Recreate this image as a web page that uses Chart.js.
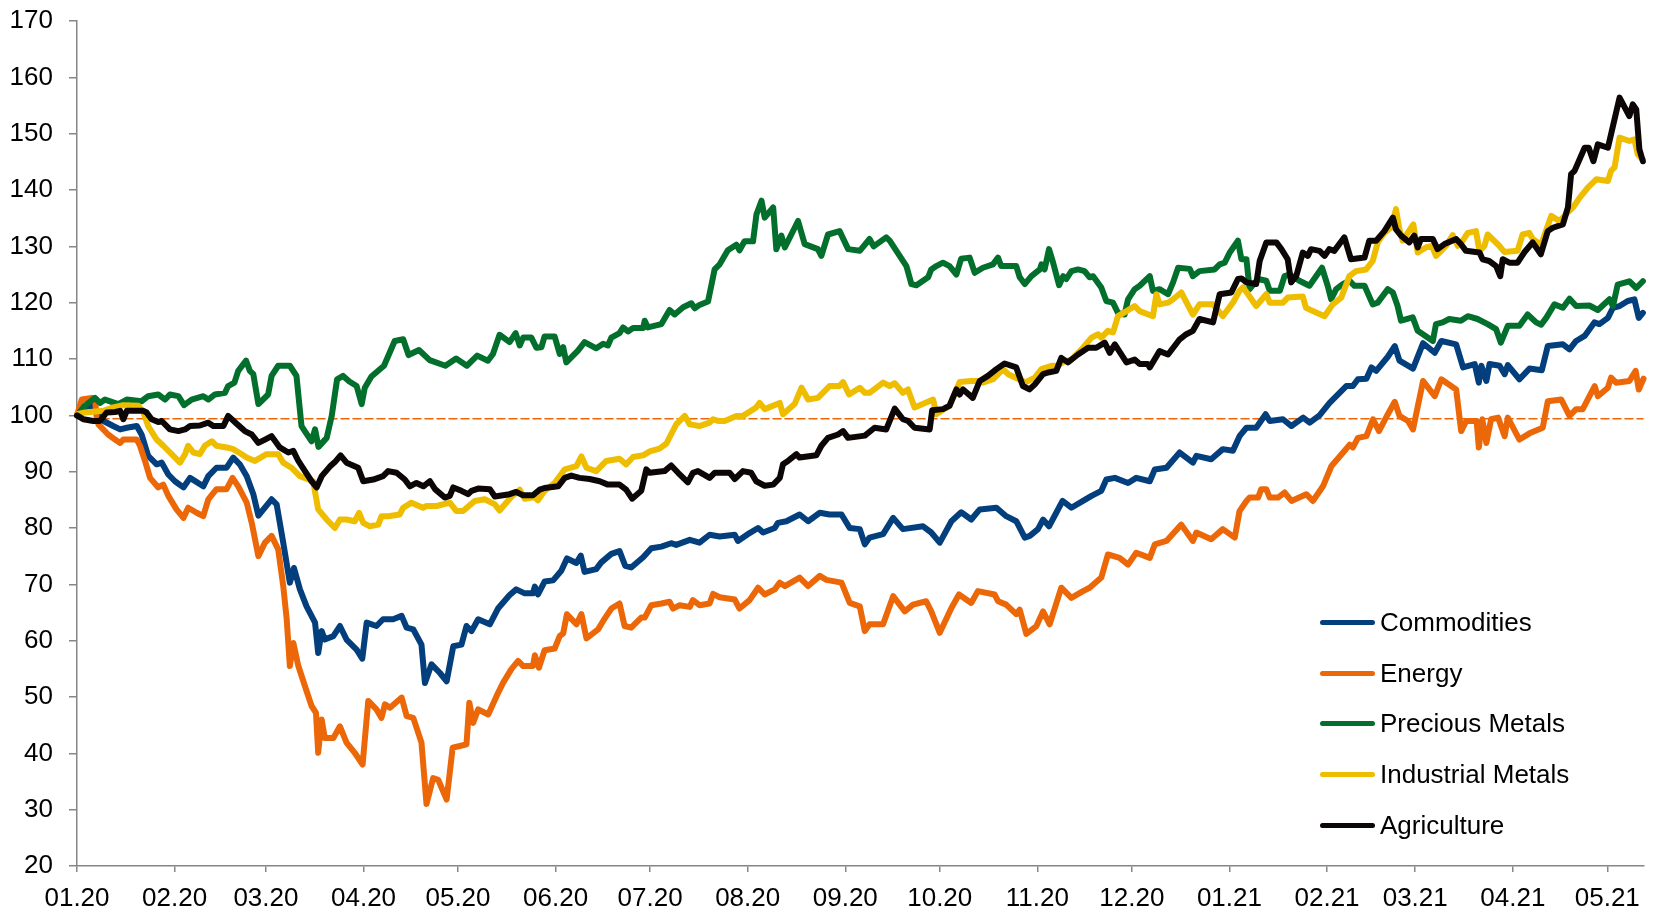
<!DOCTYPE html>
<html>
<head>
<meta charset="utf-8">
<script src="https://cdn.jsdelivr.net/npm/chart.js@4.4.0/dist/chart.umd.min.js"></script>
<style>
  html, body { margin: 0; padding: 0; background: #fff; }
  #wrap { position: relative; width: 1661px; height: 911px; }
  #legend { position: absolute; left: 1320px; top: 597px; font-family: "Liberation Sans", Arial, sans-serif; font-size: 26px; color: #000; }
  .item { display: flex; align-items: center; height: 50.8px; white-space: nowrap; }
  .swatch { width: 55px; height: 5px; border-radius: 3px; margin-right: 5px; }
</style>
</head>
<body>
<div id="wrap">
  <canvas id="chart"></canvas>
  <div id="legend"></div>
</div>
<script>
// x values are days since 01.01.2020
const monthDays = [0, 31, 60, 91, 121, 152, 182, 213, 244, 274, 305, 335, 366, 397, 425, 456, 486];
const monthLabels = ['01.20', '02.20', '03.20', '04.20', '05.20', '06.20', '07.20', '08.20', '09.20',
  '10.20', '11.20', '12.20', '01.21', '02.21', '03.21', '04.21', '05.21'];

const refLevel = 99.4;

const commoditiesDays = [
  0, 2.5, 4.7, 6.2, 8.4, 11.5, 13.7, 15.8, 19, 20.5,
  22.6, 25.3, 26.9, 29, 31.1, 33.8, 35.9, 40.1, 41.7, 44.3,
  47.5, 49.6, 51.7, 53.9, 56, 57.6, 61.8, 63.4, 65.5, 67.6,
  68.9, 70.8, 72.9, 75.6, 76.6, 77.7, 78.7, 81.4, 83.5, 85.6,
  88.8, 90.6, 92, 95.1, 97.2, 100.4, 103.1, 104.7, 106.8, 109.4,
  110.5, 112.6, 115.2, 117.4, 119.5, 122.1, 123.7, 125.3, 127.4, 131.1,
  133.7, 137.4, 139.5, 142.2, 144.8, 145.4, 146.4, 148.5, 151.2, 153.8,
  155.6, 158.6, 160, 161.2, 164.9, 166.5, 169.7, 172.3, 174.1, 176,
  179.8, 182.4, 185.6, 188.7, 190.3, 194.6, 197.7, 200.9, 204.1, 208.9,
  209.9, 213.6, 216.3, 217.9, 221.6, 222.6, 225.3, 229.5, 232.2, 235.9,
  239, 242.8, 245.4, 248.6, 250.2, 251.7, 256, 259.2, 262.3, 268.7,
  271.3, 274, 277.7, 280.8, 284, 286.7, 292, 295.1, 298.3, 301,
  302.6, 305.2, 306.8, 308.7, 311, 313, 315.8, 319.5, 322.2, 325.3,
  326.9, 329.6, 333.8, 336.4, 340.7, 342.3, 346, 350.2, 354.4, 355.5,
  360.2, 363.9, 367.1, 369.2, 371.4, 374.5, 377.5, 378.8, 383, 385.7,
  389.4, 391.5, 394.6, 397.8, 403.1, 405.2, 406.8, 409.5, 411.1, 412.6,
  416.3, 418.5, 420, 424.3, 427.5, 431.2, 433.3, 438, 440.2, 443.9,
  445.2, 446, 447.6, 448.6, 451.8, 453.4, 454.4, 458.1, 461.3, 465.2,
  467.1, 471.9, 474, 476.1, 478.8, 481.9, 483.5, 486.2, 487.8, 489.9,
  492.5, 494.6, 496, 497.3
];
const commoditiesValues = [
  100, 101.4, 102, 100.5, 99, 98.1, 97.5, 97.8, 98.1, 96.6,
  92.8, 91.3, 91.6, 89.5, 88.3, 87.2, 88.9, 87.4, 89.2, 90.7,
  90.7, 92.5, 91.3, 89.2, 86, 82.2, 85.1, 84.2, 77.4, 70.3,
  72.9, 69.1, 66.1, 63.2, 57.8, 61.7, 60.2, 60.8, 62.6, 60.2,
  58.4, 56.8, 63.2, 62.6, 63.8, 63.8, 64.4, 62.3, 62, 59.3,
  52.5, 55.8, 54.3, 52.8, 59, 59.3, 62.6, 61.7, 63.8, 62.9,
  65.7, 68.1, 69.1, 68.4, 68.4, 69.6, 68.2, 70.5, 70.7, 72.4,
  74.6, 73.8, 75.1, 72.2, 72.7, 73.9, 75.4, 75.9, 73.3, 73,
  74.8, 76.4, 76.7, 77.3, 77, 77.9, 77.4, 78.8, 78.5, 78.8,
  77.7, 79.1, 80, 79.2, 80, 80.9, 81.2, 82.4, 81.2, 82.7,
  82.4, 82.4, 80, 79.8, 77.1, 78.3, 78.9, 81.8, 79.8, 80.3,
  79.2, 77.4, 81.2, 82.8, 81.5, 83.3, 83.6, 82.1, 81.2, 78.3,
  78.6, 79.8, 81.5, 80.3, 82.7, 84.8, 83.6, 84.8, 85.7, 86.6,
  88.6, 88.9, 88, 88.9, 88.3, 90.4, 90.7, 93.4, 91.6, 92.8,
  92.2, 94, 93.7, 96.3, 97.8, 97.8, 100.2, 99, 99.3, 98.1,
  99.6, 98.7, 100, 102.2, 105.2, 105.2, 106.4, 106.5, 108.5, 107.9,
  110.4, 112.3, 109.7, 108.3, 112.8, 111.1, 113.2, 112.6, 108.5, 109.1,
  105.8, 108.8, 106.1, 109.1, 108.8, 107.3, 108.9, 106.4, 108.3, 108,
  112.3, 112.6, 111.7, 113.2, 114.1, 116.5, 116.2, 117.3, 119.1, 119.4,
  120.3, 120.6, 117.3, 118.2
];

const energyDays = [
  0, 1.5, 4.7, 5.7, 6.2, 6.8, 9.9, 12.1, 13.7, 14.7,
  19, 20, 21.6, 23.2, 25.8, 27.4, 29, 31.6, 33.8, 35.3,
  38, 40.1, 41.7, 44.3, 47.5, 49.4, 51.2, 53.9, 55.5, 57.6,
  59.7, 61.8, 63.9, 65.5, 66.6, 67.6, 68.7, 70.3, 72.4, 74.5,
  75.9, 76.6, 77.7, 78.7, 81.4, 83.5, 85.6, 88.2, 90.7, 92.5,
  95.1, 96.7, 97.8, 99.4, 103.1, 104.7, 106.8, 109.4, 111, 113.1,
  114.7, 117.4, 119.3, 121.6, 123.7, 124.6, 125.8, 127.4, 130.6, 133.2,
  135.3, 137.9, 140.1, 141.7, 144.8, 145.4, 146.7, 148.5, 151.7, 153.3,
  154.4, 155.6, 158.6, 160.2, 161.8, 165.5, 167.1, 169.7, 172.3, 173.9,
  176, 179.2, 180.3, 182.4, 185.6, 188.2, 189.3, 191.4, 194.6, 195.6,
  197.7, 200.9, 202, 204.1, 208.9, 210.4, 213.6, 216.3, 218.4, 221.6,
  223.2, 224.8, 229.5, 232.2, 235.9, 238, 242.8, 245.4, 248.6, 250.2,
  251.7, 256, 259.2, 262.9, 265.5, 269.7, 271.3, 274, 277.7, 280.1,
  284, 286.1, 291.4, 292.5, 295.1, 298.3, 299.4, 301.5, 304.7, 306.8,
  308.9, 312.6, 315.8, 319.5, 321.6, 325.3, 327.4, 331.1, 333.8, 336.4,
  340.7, 342.3, 346, 350.7, 354.4, 355.5, 360.2, 363.9, 367.7, 369.2,
  371.4, 372.4, 375.1, 376.1, 377.7, 378.8, 381.4, 383.5, 385.7, 390.4,
  392.5, 395.7, 398.4, 402.1, 404.2, 405.2, 406.8, 409.5, 411.6, 413.5,
  416.3, 418.5, 420, 422.7, 424.3, 427.5, 431.2, 433.3, 438, 439.6,
  441.2, 444.5, 445.2, 446.3, 447.6, 449.1, 451.3, 453.4, 454.4, 458.1,
  461.3, 465.5, 467.1, 471.4, 474, 476.1, 478.2, 482, 483, 486.2,
  487.2, 488.8, 493, 495, 496, 497.5
];
const energyValues = [
  100, 102.8, 103.1, 102.8, 99.9, 98.4, 96.6, 95.7, 95.1, 95.7,
  95.7, 94.6, 91.9, 88.9, 87.2, 87.7, 85.7, 83.3, 81.8, 83.6,
  82.7, 82.1, 85.1, 86.9, 86.9, 88.9, 87.4, 84.5, 80.9, 75,
  77.4, 78.6, 76.2, 69.7, 63.8, 55.5, 59.6, 55.5, 51.9, 48.4,
  47.2, 40.1, 46, 42.7, 42.7, 44.8, 41.9, 40.1, 38, 49.3,
  47.8, 46.3, 48.7, 48.1, 49.9, 46.6, 46.3, 41.9, 31, 35.6,
  35.3, 31.8, 41, 41.3, 41.6, 49, 45.4, 47.8, 46.9, 50.1,
  52.5, 54.9, 56.4, 55.5, 55.5, 57.4, 55.2, 58.3, 58.6, 60.8,
  61.3, 64.7, 62.9, 64.7, 60.4, 62, 63.5, 65.7, 66.6, 62.6,
  62.3, 64.1, 64.1, 66.3, 66.6, 66.9, 65.7, 66.3, 66, 67.2,
  66.3, 66.6, 68.3, 67.7, 67.3, 65.7, 67.2, 69.4, 68.2, 69.1,
  70.3, 69.7, 71.2, 69.7, 71.5, 70.8, 70.3, 66.7, 66.1, 61.7,
  62.9, 62.9, 67.9, 65.2, 66.4, 67, 65.2, 61.4, 65.8, 68.2,
  66.7, 68.8, 68.2, 67, 66.4, 64.7, 65.5, 61.2, 62.6, 65.2,
  62.9, 69.4, 67.6, 68.8, 69.4, 71.2, 75.3, 74.7, 73.5, 75.6,
  74.7, 77.1, 77.7, 80.6, 77.7, 79.2, 78, 79.8, 78.3, 83,
  84.8, 85.4, 85.4, 86.9, 86.9, 85.4, 85.4, 86.3, 84.8, 86,
  84.8, 87.4, 91, 93.4, 94.8, 94.3, 96, 96.3, 99.3, 97.2,
  100.2, 102.4, 99.9, 99, 97.5, 106.1, 103.4, 106.4, 104.6, 97.2,
  99, 99, 94.3, 99.3, 95.1, 99.3, 99.6, 96.3, 99.6, 95.7,
  96.8, 97.8, 102.5, 102.8, 99.9, 101.1, 101.1, 105.2, 103.4, 104.9,
  106.7, 105.8, 106.1, 107.9, 104.6, 106.5
];

const preciousDays = [
  0, 2.5, 5.7, 7.3, 8.9, 13.1, 15.8, 20.5, 22.6, 25.8,
  28, 29.5, 32.2, 34, 36.4, 40.1, 41.7, 43.8, 47, 48,
  50, 51.2, 53.7, 54.9, 56, 57.6, 60.7, 61.8, 63.9, 67.6,
  69.7, 71.3, 73.4, 74.5, 75.6, 76.7, 79.3, 80.9, 82.6, 84.5,
  86.5, 88.8, 90.4, 91.4, 93.5, 97.5, 100.9, 103.6, 105.3, 108.6,
  112, 117, 120.4, 123.8, 127.1, 130.5, 132.1, 134.2, 137.4, 139.3,
  140.6, 141.7, 144.3, 145.9, 147.5, 148.5, 151.7, 153.3, 154.4, 155.4,
  159.1, 161.2, 164.9, 167.1, 168.6, 169.7, 172.3, 173.4, 175, 176.6,
  179.8, 180.3, 181.3, 185.6, 188.2, 189.8, 192.5, 195.1, 196.2, 197.7,
  200.4, 202.5, 204.1, 206.7, 209.4, 210.4, 212, 214.7, 215.8, 217.4,
  218.4, 221.1, 222.1, 223.7, 224.8, 229, 231.1, 235.3, 236.4, 238.5,
  242.2, 244.9, 248.6, 251.7, 253, 257, 258.1, 263.4, 265, 266.6,
  270.3, 271.3, 272.9, 275, 277.1, 279.3, 280.8, 283.5, 285.1, 287.7,
  290.9, 292.5, 293.5, 298.3, 299.4, 301, 303.1, 305.8, 306.3, 307.3,
  308.7, 310, 311.9, 313.2, 314.2, 315.8, 317.9, 320, 321.6, 322.7,
  325.3, 326.9, 329, 330.6, 332.7, 333.8, 335.9, 337.5, 340.7, 341.7,
  343.8, 346.5, 348.1, 349.7, 353.4, 354.4, 356.5, 361.3, 362.9, 364.5,
  366.1, 368.7, 369.8, 371.4, 372.4, 375.1, 377.7, 378.8, 382, 383.5,
  385.1, 388.2, 391.4, 395.4, 397.2, 398.3, 399.9, 402, 404.1, 405.7,
  408.9, 411.5, 413.1, 416.3, 417.9, 419.4, 420.5, 424.2, 425.8, 430.6,
  431.6, 433.7, 435.8, 439.5, 441.7, 444.8, 448, 450.7, 452.2, 454.4,
  458.1, 460.7, 463.4, 465, 466.6, 469.2, 471.9, 474, 476.1, 480.3,
  483, 486.7, 487.8, 489.3, 493, 495.2, 497.3
];
const preciousValues = [
  100, 101.7, 103.1, 102.2, 102.8, 102, 102.8, 102.5, 103.4, 103.7,
  102.8, 103.7, 103.4, 101.8, 102.8, 103.4, 102.8, 103.7, 104, 105.2,
  105.8, 107.9, 109.7, 107.9, 107.3, 102, 103.7, 107, 108.8, 108.8,
  107, 98.1, 96.3, 95.4, 97.5, 94.4, 96, 99.9, 106.4, 107,
  106, 105.2, 102, 104.9, 106.9, 108.8, 113.2, 113.5, 110.7, 111.6,
  109.8, 108.8, 110.1, 108.8, 110.6, 109.7, 110.9, 114.3, 113, 114.6,
  112.4, 113.8, 113.8, 112, 112.1, 114, 114, 110.9, 112.1, 109.4,
  111.5, 113, 111.9, 112.7, 112.4, 113.8, 114.6, 115.6, 114.9, 115.5,
  115.5, 116.8, 115.6, 116.2, 118.7, 117.9, 119.2, 119.9, 119, 119.6,
  120.2, 125.9, 126.8, 129.3, 130.3, 129.3, 130.9, 130.9, 135.7, 138.1,
  135.1, 136.9, 129.5, 131.9, 129.8, 134.5, 130.4, 129.5, 128.3, 132.1,
  132.7, 129.5, 129.2, 131.3, 130, 131.6, 131, 126.5, 123.3, 123.1,
  124.5, 125.9, 126.5, 127.1, 126.5, 125, 127.8, 128, 125.3, 126.2,
  126.8, 128, 126.5, 126.5, 124.5, 123.3, 124.7, 125.9, 126.8, 125.9,
  129.5, 127.1, 123.1, 124.7, 124.2, 125.6, 125.9, 125.6, 124.5, 124.7,
  122.7, 120.3, 120, 118.2, 117.9, 120.6, 122.4, 123, 124.7, 122.1,
  122.4, 121.5, 123.6, 126.2, 126, 124.7, 125.6, 125.9, 126.8, 127.1,
  128.9, 131, 127.7, 127.7, 122.4, 124.2, 123.9, 122.1, 122.1, 124.7,
  125, 123.9, 123, 126.2, 123, 120.6, 122.4, 123.3, 123.9, 123,
  123, 119.7, 120, 122.4, 121.8, 119.4, 116.8, 117.4, 115, 113.2,
  116.2, 116.5, 117.1, 116.8, 117.6, 117.1, 116.2, 115.3, 112.9, 115.9,
  115.9, 117.9, 116.5, 116.1, 117.3, 119.7, 119.1, 120.7, 119.4, 119.5,
  118.7, 120.6, 119.4, 123.2, 123.8, 122.6, 123.8
];

const industrialDays = [
  0, 2.5, 8.4, 11.5, 14.7, 19.5, 21.1, 22.6, 25.3, 27.4,
  30.6, 32.7, 34.3, 35.3, 37, 39, 40.6, 42.8, 44.3, 47.5,
  49.6, 52.3, 53.9, 56.5, 60.2, 63.9, 65.5, 68.1, 70.8, 75,
  76.6, 79.3, 81.9, 83.5, 85.6, 88.2, 89.6, 90.9, 93, 95.7,
  96.7, 98.8, 102.5, 103.6, 106.2, 109.9, 111, 114.2, 118.4, 120.5,
  122.6, 126.3, 129.5, 132.7, 134.2, 137.9, 140.6, 142.2, 145.4, 146.4,
  148.5, 151.7, 154.9, 158.6, 160.2, 161.8, 164.9, 168.1, 172.3, 174.4,
  176.6, 179.8, 181.9, 185, 187.2, 190.3, 193, 194.6, 197.7, 200.9,
  202, 203.6, 205.7, 209.4, 211.5, 215.7, 216.8, 218.4, 223.2, 224.2,
  227.9, 230.1, 232.2, 235.3, 239, 242.2, 243.3, 245.2, 248.6, 250.2,
  251.7, 256, 258.1, 259.7, 262.3, 263.9, 266, 271.9, 272.9, 277.1,
  280.3, 284, 286.7, 287.7, 290.9, 294.1, 295.7, 300.4, 301, 304.2,
  306.3, 309.5, 311.6, 313.2, 315.8, 319, 322.2, 324.3, 325.3, 327.4,
  329, 330.6, 333.3, 335.9, 337.5, 341.7, 342.8, 343.8, 346.5, 348.1,
  350.7, 354.4, 356.5, 360.8, 363.9, 367.1, 369.2, 370.3, 371.9, 374.5,
  377.7, 378.8, 383, 384.5, 389.3, 390.3, 392.5, 396.2, 398.8, 401.5,
  404.1, 406.2, 409.4, 411.5, 413.1, 415.2, 417.3, 418.9, 420, 421,
  423.7, 424.4, 425.8, 428.4, 430.3, 431.6, 432.7, 434.8, 436.9, 438.5,
  440.1, 441.7, 444.3, 445.4, 447, 448, 451.7, 453.3, 457.5, 459.1,
  461.2, 462.3, 465, 466.1, 468.2, 470.8, 472.9, 475.1, 477.2, 479.8,
  482.5, 486.2, 487.2, 488.3, 489.9, 493, 494.6, 495.7, 497.3
];
const industrialValues = [
  100.2, 100.5, 100.8, 101.4, 101.8, 101.7, 100.5, 98.1, 95.7, 94.6,
  92.8, 91.6, 93.1, 94.6, 93.4, 93.1, 94.6, 95.4, 94.6, 94.3,
  94, 93.1, 92.5, 91.9, 93.1, 93.1, 91.6, 90.7, 89.2, 88.3,
  83.3, 81.5, 80, 81.5, 81.5, 81.2, 82.7, 80.9, 80.3, 80.6,
  82.1, 82.1, 82.4, 83.6, 84.5, 83.6, 83.9, 83.9, 84.5, 83,
  83, 84.8, 85.1, 84.2, 83.1, 85.5, 86.8, 85.2, 85.5, 84.9,
  86.6, 88, 90.4, 91, 92.7, 90.7, 90.1, 91.9, 92.3, 91.3,
  92.6, 92.9, 93.6, 94.1, 95, 98.4, 99.9, 98.4, 98.1, 98.7,
  99.3, 99, 99, 99.9, 99.9, 101.4, 102.2, 101.1, 102.2, 100.2,
  102, 104.9, 102.8, 103.1, 105.2, 105.2, 105.9, 103.7, 104.9, 104,
  104, 105.8, 105.2, 105.7, 104, 104.6, 101.4, 102.8, 100.2, 101.7,
  105.9, 106.1, 106.1, 105.8, 106.4, 108.2, 107.3, 106.1, 105.8, 106.7,
  108.2, 108.8, 108.8, 109.5, 109.9, 111.7, 113.8, 114.4, 113.8, 115,
  114.7, 117.6, 118.5, 119.4, 118.5, 117.6, 121.5, 119.7, 120, 120.6,
  121.8, 117.9, 119.7, 119.7, 117.6, 120, 122.1, 122.7, 121.5, 119.4,
  121.5, 120, 120, 120.9, 121.1, 119.1, 118.5, 117.6, 119.7, 120.9,
  124.7, 125.6, 125.9, 127.4, 130.7, 132.4, 133.3, 136.6, 133, 131,
  133.3, 133.9, 128.9, 129.8, 130.1, 128.3, 128.9, 130.1, 132, 130.1,
  131, 132.4, 132.7, 129.2, 130.1, 132.1, 130.1, 129, 129.2, 132.1,
  132.4, 131.3, 130.3, 132.1, 135.4, 134.5, 135.7, 136.9, 138.6, 140.4,
  141.9, 141.6, 143.4, 144, 149.3, 148.7, 149, 146.3, 145.4
];

const agricultureDays = [
  0, 2, 5.2, 7.3, 9.4, 12.1, 13.7, 14.7, 15.8, 21.1,
  22.1, 23.7, 25.8, 26.9, 29.5, 32.2, 34.3, 35.9, 39, 41.7,
  43.3, 46.5, 48, 50.7, 53.3, 55.5, 57.6, 59.7, 61.8, 64.4,
  67.1, 68.7, 70.3, 72.4, 74.5, 76.1, 77.7, 80.3, 81.9, 83.7,
  85.6, 89.3, 90.9, 94.1, 97.2, 98.8, 101.5, 104.1, 105.7, 107.8,
  110, 112.1, 113.7, 116.8, 118.4, 119.5, 122.1, 124.2, 125.3, 127.4,
  131.1, 132.7, 137.4, 139.5, 141.7, 144.8, 146.9, 148.5, 152.8, 154.9,
  157, 159.6, 162.8, 166, 168.6, 172.3, 174.4, 176.3, 179.2, 180.8,
  181.9, 186.6, 188.7, 190.9, 194, 195.6, 197.2, 200.9, 202.5, 207.3,
  208.9, 211.5, 214.1, 215.7, 218.4, 221.1, 223.2, 224.2, 225.8, 228.5,
  229.5, 234.8, 236.4, 238.5, 241.7, 243.3, 244.9, 250.2, 253.3, 257,
  259.7, 262.3, 263.9, 266, 270.8, 271.6, 275, 277.1, 279.3, 280.3,
  281.4, 284.5, 286.7, 289.3, 292, 294.6, 298.3, 300.4, 302.5, 304.2,
  306.8, 308.4, 311, 312.6, 314.7, 317.9, 321.1, 323.7, 326.4, 328,
  329.6, 333.3, 335.9, 337.5, 340.1, 340.7, 343.8, 346.5, 350.2, 352.3,
  354.4, 356.5, 360.8, 362.9, 366.6, 368.7, 369.8, 371.4, 374.5, 375.6,
  377.7, 380.9, 382.5, 384.5, 385.6, 387.2, 389.3, 390.9, 391.9, 394.6,
  396.2, 397.7, 399.3, 402.5, 404.6, 408.9, 410.4, 412.6, 415.2, 417.9,
  418.9, 420.5, 423.1, 424.7, 425.8, 426.8, 430.6, 432.1, 434.3, 438,
  439.5, 441.1, 445.4, 446.4, 448.5, 450.7, 452, 452.8, 454.9, 457.5,
  459.6, 462.3, 464.9, 467.1, 468.7, 471.9, 473.5, 474.5, 475.6, 478.8,
  480.1, 481.6, 483, 486.2, 489.9, 493, 494.1, 495.2, 496.2, 497.3
];
const agricultureValues = [
  100, 99.3, 99, 99, 100.5, 100.6, 100.8, 99.3, 100.8, 100.8,
  100.5, 99.3, 98.8, 99, 97.5, 97.2, 97.5, 98.1, 98.2, 98.7,
  98.1, 98.1, 99.9, 98.5, 97.2, 96.6, 95.1, 95.7, 96.3, 94.3,
  93.4, 93.7, 91.9, 90.1, 88.3, 87.2, 89.2, 90.9, 91.7, 92.9,
  91.6, 90.7, 88.3, 88.6, 89.2, 90.1, 89.8, 88.6, 87.4, 88,
  87.4, 88.3, 86.9, 85.4, 85.7, 87.2, 86.6, 86, 86.6, 87,
  86.9, 85.6, 86, 86.4, 85.8, 85.8, 86.8, 87.1, 87.4, 88.9,
  89.3, 88.9, 88.7, 88.3, 87.7, 87.7, 86.8, 85.2, 86.6, 90.4,
  89.8, 90.1, 91.1, 89.8, 88.1, 89.8, 90.1, 88.9, 89.8, 89.8,
  88.7, 90.1, 89.8, 88.3, 87.5, 87.7, 88.9, 91.3, 91.9, 93.1,
  92.5, 92.9, 94.6, 96, 96.6, 97.2, 96, 96.4, 97.8, 97.5,
  101.2, 99.3, 99, 97.8, 97.5, 100.9, 101.1, 101.7, 104.6, 103.7,
  104.6, 103.1, 106.1, 107, 108.2, 109.2, 108.5, 105.2, 104.6, 105.5,
  107.3, 107.6, 107.9, 110.2, 109.4, 110.8, 112, 112, 112.9, 111.1,
  112.6, 109.4, 109.9, 109.1, 109.1, 108.5, 111.4, 110.8, 113.5, 114.4,
  115, 117.1, 116.5, 121.5, 121.8, 124.2, 124.3, 123.6, 123.3, 127.4,
  130.7, 130.7, 129.5, 127.7, 123.6, 124.7, 128.9, 128.3, 129.5, 129.2,
  128.3, 129.5, 129.2, 131.6, 127.7, 128, 131, 131, 132.7, 135.1,
  133, 131.9, 130.7, 131.9, 129.8, 131.3, 131.3, 129.5, 130.4, 131.3,
  130.4, 129.2, 128.9, 127.7, 127.4, 126.5, 124.7, 127.7, 127.1, 127.1,
  128.9, 130.7, 128.6, 132.7, 133.3, 133.9, 136.9, 142.8, 143.4, 147.5,
  147.5, 145.1, 148.1, 147.5, 156.4, 153.1, 155.2, 154.3, 147.2, 145.1
];

const xMax = 497.5;

// pair up day and value arrays
function pts(days, values) {
    return days.map((d, i) => ({ x: d, y: values[i] }));
}

function series(label, days, values, color, order) {
    return {
        label: label,
        data: pts(days, values),
        borderColor: color,
        backgroundColor: color,
        borderWidth: 6,
        order: order,
        clip: false,
    };
}

Chart.defaults.font.family = '"Liberation Sans", Arial, sans-serif';
Chart.defaults.font.size = 26;
Chart.defaults.color = '#000';

const datasets = [
    series('Commodities', commoditiesDays, commoditiesValues, '#023f7c', 5),
    series('Energy', energyDays, energyValues, '#ec6708', 4),
    series('Precious Metals', preciousDays, preciousValues, '#036f2c', 3),
    series('Industrial Metals', industrialDays, industrialValues, '#efbd00', 2),
    series('Agriculture', agricultureDays, agricultureValues, '#0d0606', 1),
    {
        label: 'ref',
        data: [{ x: 0, y: refLevel }, { x: xMax, y: refLevel }],
        borderColor: '#ec6708',
        borderWidth: 1.5,
        borderDash: [8, 4],
        order: 6,
    },
];

const ctx = document.getElementById('chart').getContext('2d');
const chart = new Chart(ctx, {
    type: 'line',
    data: { datasets: datasets },
    options: {
        responsive: true,
        maintainAspectRatio: false,
        animation: false,
        events: [],
        layout: { padding: { top: 21, right: 17.5, left: 0, bottom: 0 } },
        plugins: { legend: { display: false }, tooltip: { enabled: false } },
        elements: {
            point: { radius: 0 },
            line: { tension: 0, borderJoinStyle: 'round', borderCapStyle: 'round' },
        },
        scales: {
            x: {
                type: 'linear',
                min: 0,
                max: xMax,
                afterBuildTicks: (s) => { s.ticks = monthDays.map(v => ({ value: v })); },
                afterFit: (s) => { s.height = 45; },
                ticks: {
                    autoSkip: false,
                    maxRotation: 0,
                    padding: 11,
                    callback: (v, i) => monthLabels[i],
                },
                grid: { drawOnChartArea: false, drawTicks: true, tickLength: 6, color: '#868686', lineWidth: 1.5 },
                border: { display: true, color: '#868686', width: 1.5 },
            },
            y: {
                min: 20,
                max: 170,
                afterFit: (s) => { s.width = 77; s.paddingTop = 4; s.paddingBottom = 4; },
                ticks: { stepSize: 10, padding: 16 },
                grid: { drawOnChartArea: false, drawTicks: true, tickLength: 8, color: '#868686', lineWidth: 1.5 },
                border: { display: true, color: '#868686', width: 1.5 },
            },
        },
    },
});

// Legend built from the chart datasets
const legendEl = document.getElementById('legend');
chart.data.datasets.filter(ds => ds.label !== 'ref').forEach(ds => {
    const item = document.createElement('div');
    item.className = 'item';
    const sw = document.createElement('span');
    sw.className = 'swatch';
    sw.style.background = ds.borderColor;
    const txt = document.createElement('span');
    txt.textContent = ds.label;
    item.appendChild(sw);
    item.appendChild(txt);
    legendEl.appendChild(item);
});
</script>
</body>
</html>
